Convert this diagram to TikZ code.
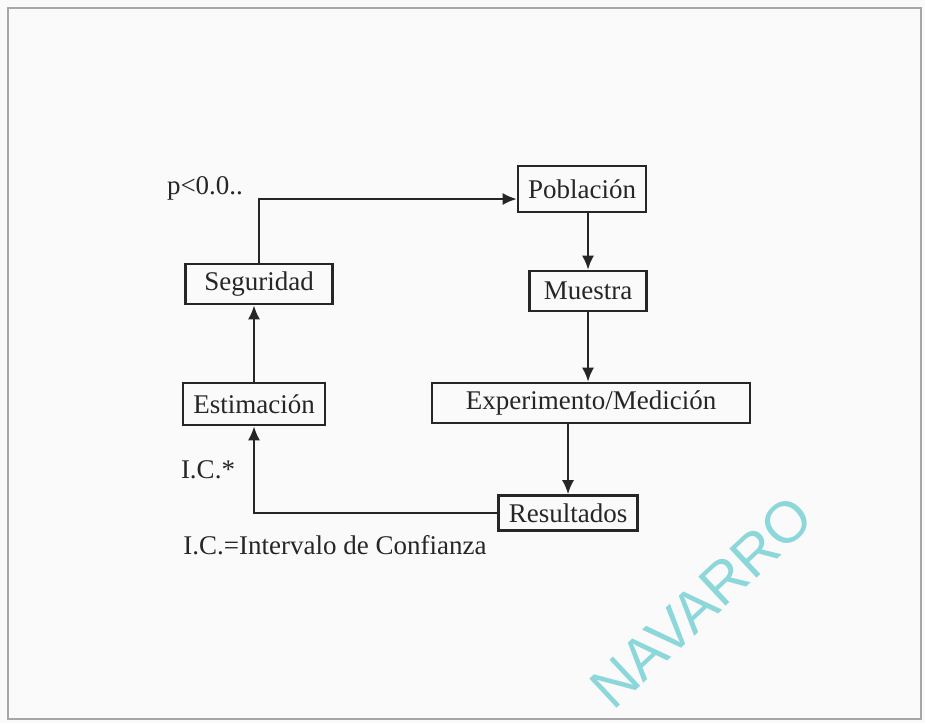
\documentclass[tikz,border=0pt]{standalone}
\usepackage{fontspec}
\setmainfont{Liberation Serif}
\newfontfamily\marcafont{Liberation Sans}
\usetikzlibrary{arrows.meta}
\definecolor{tinta}{gray}{0.15}
\definecolor{marca}{RGB}{140,215,218}
\tikzset{
  caja/.style={draw=tinta,line width=1.3pt,inner xsep=5pt,inner ysep=0pt,minimum height=20pt,text=tinta,font=\fontsize{13.5}{15}\selectfont},
  flecha/.style={draw=tinta,line width=1pt,-{Latex[length=7pt,width=6pt]}},
  etiq/.style={text=tinta,font=\fontsize{13.5}{15}\selectfont,inner sep=0pt}
}
\begin{document}
\begin{tikzpicture}[x=0.5pt,y=-0.5pt]
\useasboundingbox (0,0) rectangle (925,723);
\fill[gray!4] (0,0) rectangle (925,723);
\draw[gray!70,line width=0.8pt] (8,8) rectangle (921,719);

\node[caja,minimum width=54.5pt,minimum height=23pt] (pob) at (582,189) {Población};
\node[caja,minimum width=58.5pt] (mue) at (588,291) {Muestra};
\node[caja,minimum width=73.5pt] (seg) at (259,284) {Seguridad};
\node[caja,minimum width=71pt,minimum height=21pt] (est) at (254,404) {Estimación};
\node[caja,minimum width=159pt] (exp) at (591,403) {Experimento/Medición};
\node[caja,minimum width=66.5pt,minimum height=17.5pt] (res) at (568,513) {Resultados};

\node[etiq] (p) at (205,188) {p<0.0..};
\node[etiq] (ic) at (208,470) {I.C.*};
\node[etiq,anchor=west] (ley) at (183,545) {I.C.=Intervalo de Confianza};

\coordinate (pobin) at ([yshift=-5pt]pob.west);

\draw[flecha] (seg.north) |- (pobin);
\draw[flecha] (pob.south -| mue.north) -- (mue.north);
\draw[flecha] (mue.south) -- (mue.south |- exp.north);
\draw[flecha] (res.north |- exp.south) -- (res.north);
\draw[flecha] (res.west) -| (est.south);
\draw[flecha] (est.north) -- (est.north |- seg.south);

% marca de agua
\node[text=marca,font=\marcafont\fontsize{29}{29}\selectfont,rotate=43,anchor=base west,inner sep=0pt] (wm) at (613,712) {NAVARRO};
\end{tikzpicture}
\end{document}
